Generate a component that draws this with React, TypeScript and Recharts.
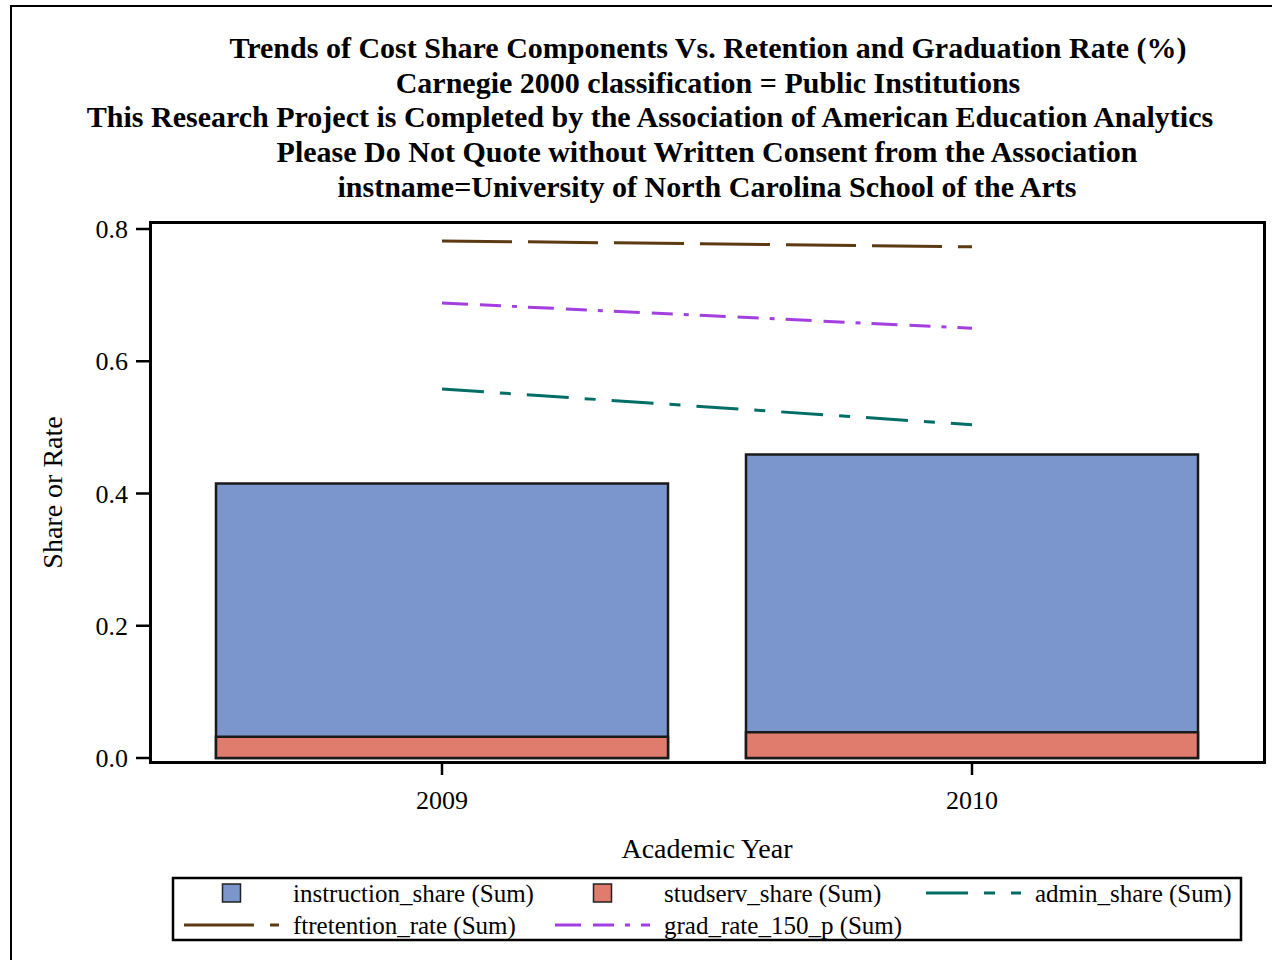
import { ComposedChart, Bar, Line, XAxis, YAxis, Label } from 'recharts';

const years = ['2009', '2010'];
const instructionShare = [0.415, 0.459];
const studservShare = [0.032, 0.039];
const adminShare = [0.558, 0.504];
const ftretentionRate = [0.782, 0.773];
const gradRate150 = [0.688, 0.65];
const yTicks = [0, 0.2, 0.4, 0.6, 0.8];

const titleLines = [
  'Trends of Cost Share Components Vs. Retention and Graduation Rate (%)',
  'Carnegie 2000 classification = Public Institutions',
  'This Research Project is Completed by the Association of American Education Analytics',
  'Please Do Not Quote without Written Consent from the Association',
  'instname=University of North Carolina School of the Arts',
];
const titleCenters = [708, 708, 650, 707, 707];

const FONT = '"Liberation Serif", "Times New Roman", serif';
const BLUE = '#7B96CC';
const RED = '#E07C6E';
const BROWN = '#5C3A12';
const PURPLE = '#A33FE0';
const TEAL = '#006E66';

const DASH_BROWN = '70 16';
const DASH_PURPLE = '26 12 21 11 5 11';
const DASH_TEAL = '42 16 11 16';

const data = years.map((year, i) => ({
  year,
  instruction_share: instructionShare[i],
  studserv_share: studservShare[i],
  admin_share: adminShare[i],
  ftretention_rate: ftretentionRate[i],
  grad_rate_150_p: gradRate150[i],
}));

const legendItems = [
  { label: 'instruction_share (Sum)', kind: 'bar', color: BLUE, dash: '', col: 0, row: 0 },
  { label: 'studserv_share (Sum)', kind: 'bar', color: RED, dash: '', col: 1, row: 0 },
  { label: 'admin_share (Sum)', kind: 'line', color: TEAL, dash: DASH_TEAL, col: 2, row: 0 },
  { label: 'ftretention_rate (Sum)', kind: 'line', color: BROWN, dash: DASH_BROWN, col: 0, row: 1 },
  { label: 'grad_rate_150_p (Sum)', kind: 'line', color: PURPLE, dash: DASH_PURPLE, col: 1, row: 1 },
];

const colX = [184, 555, 926];
const rowY = [893, 925];

function ChartLegend() {
  return (
    <g>
      <rect x={173} y={878} width={1068} height={62} fill="none" stroke="#000" strokeWidth={2.5} />
      {legendItems.map((item) => {
        const x0 = colX[item.col];
        const cy = rowY[item.row];
        return (
          <g key={item.label}>
            {item.kind === 'bar' ? (
              <rect x={x0 + 38.5} y={cy - 9} width={18} height={18} fill={item.color} stroke="#222" strokeWidth={1.5} />
            ) : (
              <line x1={x0} x2={x0 + 95} y1={cy} y2={cy} stroke={item.color} strokeWidth={3} strokeDasharray={item.dash} />
            )}
            <text x={x0 + 109} y={cy + 9} fontFamily={FONT} fontSize={25} fill="#000">
              {item.label}
            </text>
          </g>
        );
      })}
    </g>
  );
}

export default function App() {
  return (
    <div style={{ position: 'absolute', left: 0, top: 0, width: 1272, height: 960, overflow: 'hidden', background: '#fff' }}>
      <div
        style={{
          position: 'absolute',
          left: 10,
          top: 5,
          width: 1400,
          height: 1100,
          border: '2.5px solid #000',
          boxSizing: 'border-box',
        }}
      />
      <div style={{ position: 'absolute', left: 0, top: 0 }}>
        <ComposedChart
          width={1272}
          height={960}
          data={data}
          margin={{ top: 222, right: 8, bottom: 97, left: 30 }}
          barSize={452}
          barGap={-452}
        >
          <XAxis
            dataKey="year"
            height={100}
            padding={{ left: 27, right: 27 }}
            axisLine={false}
            tickSize={12}
            tickMargin={16}
            tickLine={{ stroke: '#000', strokeWidth: 2.5 }}
            tick={{ fill: '#000', fontSize: 26, fontFamily: FONT }}
          >
            <Label
              content={(props: any) => {
                const vb = props.viewBox;
                return (
                  <text x={vb.x + vb.width / 2} y={vb.y + 95} textAnchor="middle" fontFamily={FONT} fontSize={28} fill="#000">
                    Academic Year
                  </text>
                );
              }}
            />
          </XAxis>
          <YAxis
            width={120}
            domain={[0, 0.8]}
            ticks={yTicks}
            padding={{ top: 7, bottom: 5 }}
            axisLine={false}
            tickSize={14}
            tickMargin={8}
            tickLine={{ stroke: '#000', strokeWidth: 2.5 }}
            tick={{ fill: '#000', fontSize: 26, fontFamily: FONT }}
            tickFormatter={(v: number) => v.toFixed(1)}
          >
            <Label
              content={(props: any) => {
                const vb = props.viewBox;
                const cx = vb.x + 22;
                const cy = vb.y + vb.height / 2;
                return (
                  <text
                    x={cx}
                    y={cy}
                    transform={`rotate(-90, ${cx}, ${cy})`}
                    textAnchor="middle"
                    dominantBaseline="central"
                    fontFamily={FONT}
                    fontSize={28}
                    fill="#000"
                  >
                    Share or Rate
                  </text>
                );
              }}
            />
          </YAxis>
          <Bar dataKey="instruction_share" fill={BLUE} stroke="#1a1a1a" strokeWidth={2.5} isAnimationActive={false} />
          <Bar dataKey="studserv_share" fill={RED} stroke="#1a1a1a" strokeWidth={2.5} isAnimationActive={false} />
          <Line dataKey="admin_share" stroke={TEAL} strokeWidth={3} strokeDasharray={DASH_TEAL} dot={false} activeDot={false} isAnimationActive={false} />
          <Line dataKey="ftretention_rate" stroke={BROWN} strokeWidth={3} strokeDasharray={DASH_BROWN} dot={false} activeDot={false} isAnimationActive={false} />
          <Line dataKey="grad_rate_150_p" stroke={PURPLE} strokeWidth={3} strokeDasharray={DASH_PURPLE} dot={false} activeDot={false} isAnimationActive={false} />
        </ComposedChart>
      </div>
      <div
        style={{
          position: 'absolute',
          left: 149,
          top: 221,
          width: 1117,
          height: 543,
          border: '3px solid #000',
          boxSizing: 'border-box',
          pointerEvents: 'none',
        }}
      />
      <svg width={1272} height={960} style={{ position: 'absolute', left: 0, top: 0, pointerEvents: 'none' }}>
        {titleLines.map((t, i) => (
          <text
            key={t}
            x={titleCenters[i]}
            y={58 + i * 34.7}
            textAnchor="middle"
            fontFamily={FONT}
            fontWeight="bold"
            fontSize={30}
            fill="#000"
          >
            {t}
          </text>
        ))}
        <ChartLegend />
      </svg>
    </div>
  );
}
